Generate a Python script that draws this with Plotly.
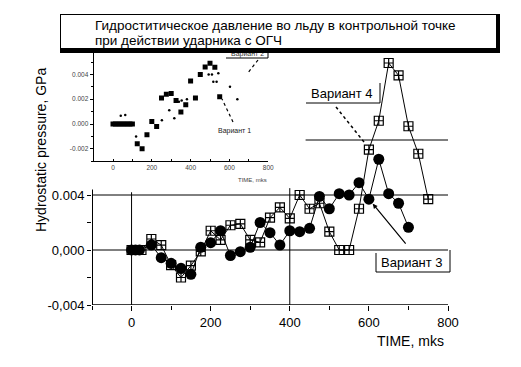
import plotly.graph_objects as go

# ---------------- data ----------------
# Main chart, "Вариант 3" (filled circles)
v3_x = [0, 10, 20, 50, 75, 100, 125, 150, 175, 200, 225, 250, 275, 300, 325, 350, 375,
        400, 425, 450, 475, 500, 525, 550, 575, 600, 625, 650, 675, 700]
v3_y = [0.0, 0.0, 0.0, 0.00036, -0.00056, -0.00097, -0.00133, -0.00177, 0.0002, 0.00053,
        0.0014, -0.0004, -0.00012, 0.0002, 0.002, 0.00126, 0.00036, 0.0014, 0.00133,
        0.00158, 0.0039, 0.003, 0.0041, 0.004, 0.0049, 0.0037, 0.0066, 0.0041, 0.0034,
        0.00165]

# Main chart, "Вариант 4" (open squares with cross)
v4_x = [0, 25, 50, 75, 100, 125, 150, 175, 200, 225, 250, 275, 300, 325, 350, 375, 400,
        425, 450, 475, 500, 525, 550, 575, 600, 625, 650, 675, 700, 725, 750]
v4_y = [0.0, 0.0, 0.0008, 0.00036, -0.0011, -0.002, -0.00114, -0.0001, 0.0014, 0.00073,
        0.0018, 0.0019, 0.00073, 0.00056, 0.00235, 0.0031, 0.0023, 0.004, 0.003, 0.0034,
        0.00133, 0.0, 0.0, 0.003, 0.0073, 0.0094, 0.0136, 0.0127, 0.009, 0.0070, 0.0037]

# Inset, "Вариант 1" (filled squares)
v1_x = [0, 12.5, 25, 37.5, 50, 62.5, 75, 87.5, 100, 125, 150, 175, 200, 225, 250, 275,
        300, 325, 350, 375, 400, 425, 450, 475, 500, 525, 550]
v1_y = [0, 0, 0, 0, 0, 0, 0, 0, 0, -0.0016, -0.002, -0.00086, 0.0002, -0.0002, 0.0021,
        0.0024, 0.00245, 0.0019, 0.00097, 0.00156, 0.00347, 0.0021, 0.004, 0.0046,
        0.0049, 0.00457, 0.0022]

# Inset, "Вариант 2" (small dots)
v2_x = [40, 63, 119, 252, 290, 316, 340, 354, 381, 493, 510, 517, 534, 543, 603, 641]
v2_y = [0.00067, 0.00073, -0.001, 0.0003, 0.0011, 0.00046, 0.0018, 0.0019, 0.002,
        0.004, 0.004, 0.0034, 0.0034, 0.0041, 0.003, 0.002]

main_xticks = [0, 200, 400, 600, 800]
main_xminor = [-100, 100, 300, 500, 700]
main_yticks = [-0.004, 0.0, 0.004]
main_yticktext = ["-0,004", "0,000", "0.004"]
main_yminor = [-0.002, 0.002]
inset_xticks = [0, 200, 400, 600, 800]
inset_xminor = [-100, 100, 300, 500, 700]
inset_yticks = [-0.002, 0.0, 0.002, 0.004]
inset_yticktext = ["-0.002", "0.000", "0.002", "0.004"]
inset_yminor = [-0.003, -0.001, 0.001, 0.003, 0.005]

title_line1 = "Гидроститическое давление во льду в контрольной точке"
title_line2 = "при действии ударника с ОГЧ"

# ---------------- layout helpers ----------------
OFF = 8                      # page body margin added by the HTML page
W, H = 521 - OFF, 367 - OFF
PL, PR, PT, PB = 92, 448, 45, 305   # plot area in page pixels
ML, MR, MT, MB = PL - OFF, W - (PR - OFF), PT - OFF, H - (PB - OFF)
PW, PH = PR - PL, PB - PT
FONT = "Liberation Sans, Arial, sans-serif"


def px(x):
    return (x - PL) / PW


def py(y):
    return (PB - y) / PH


fig = go.Figure()

fig.add_trace(go.Scatter(
    x=v4_x, y=v4_y, mode="lines+markers", name="Вариант 4",
    line=dict(color="black", width=1),
    marker=dict(symbol="square-cross-open", size=9, color="black",
                line=dict(width=1.2, color="black")),
    xaxis="x", yaxis="y"))
fig.add_trace(go.Scatter(
    x=v3_x, y=v3_y, mode="lines+markers", name="Вариант 3",
    line=dict(color="black", width=1),
    marker=dict(symbol="circle", size=11, color="black"),
    xaxis="x", yaxis="y"))
fig.add_trace(go.Scatter(
    x=v1_x, y=v1_y, mode="markers", name="Вариант 1",
    marker=dict(symbol="square", size=5, color="black"),
    xaxis="x2", yaxis="y2"))
fig.add_trace(go.Scatter(
    x=v2_x, y=v2_y, mode="markers", name="Вариант 2",
    marker=dict(symbol="circle", size=2.5, color="black"),
    xaxis="x2", yaxis="y2"))

ymin = -0.004
yspan = PH / 13750.0

fig.update_layout(
    width=W, height=H, margin=dict(l=ML, r=MR, t=MT, b=MB, pad=0),
    paper_bgcolor="white", plot_bgcolor="rgba(0,0,0,0)",
    showlegend=False,
    font=dict(family=FONT, color="black", size=13),
    xaxis=dict(range=[-100, 800], domain=[0, 1], showgrid=False, zeroline=False,
               showline=False, tickmode="array", tickvals=main_xticks,
               ticks="outside", ticklen=5, tickwidth=1, tickcolor="black",
               tickfont=dict(size=13, family=FONT),
               minor=dict(tickmode="array", tickvals=main_xminor, ticks="outside",
                          ticklen=4, tickcolor="black")),
    yaxis=dict(range=[ymin, ymin + yspan], domain=[0, 1], showgrid=False,
               zeroline=False, showline=False, tickmode="array",
               tickvals=main_yticks, ticktext=main_yticktext,
               ticks="outside", ticklen=4, tickwidth=1, tickcolor="black",
               tickfont=dict(size=13, family=FONT),
               minor=dict(tickmode="array", tickvals=main_yminor, ticks="outside",
                          ticklen=4, tickcolor="black")),
    xaxis2=dict(range=[-100, 800], domain=[px(93.6), px(268.2)], anchor="y2",
                showgrid=False, zeroline=False, showline=True, linecolor="black",
                linewidth=1, tickmode="array", tickvals=inset_xticks,
                ticks="inside", ticklen=2, tickcolor="black",
                tickfont=dict(size=6.5, family=FONT, color="#444"),
                minor=dict(tickmode="array", tickvals=inset_xminor, ticks="inside",
                           ticklen=2, tickcolor="black")),
    yaxis2=dict(range=[-0.003, 0.006], domain=[py(161.2), py(49.6)], anchor="x2",
                showgrid=False, zeroline=False, showline=True, linecolor="black",
                linewidth=1, tickmode="array", tickvals=inset_yticks,
                ticktext=inset_yticktext, ticks="outside", ticklen=3,
                tickcolor="black",
                tickfont=dict(size=6.5, family=FONT, color="#444"),
                minor=dict(tickmode="array", tickvals=inset_yminor, ticks="outside",
                           ticklen=2, tickcolor="black")),
)

shapes = []


def dline(x0, y0, x1, y1, w=1.0, dash="solid"):
    shapes.append(dict(type="line", xref="x", yref="y", x0=x0, y0=y0, x1=x1, y1=y1,
                       line=dict(color="black", width=w, dash=dash), layer="above"))


def pline(x0, y0, x1, y1, w=1.0, dash="solid"):
    shapes.append(dict(type="line", xref="paper", yref="paper", x0=px(x0), y0=py(y0),
                       x1=px(x1), y1=py(y1),
                       line=dict(color="black", width=w, dash=dash), layer="above"))


# main axis frame and grid lines
dline(-100, -0.004, -100, 0.0044, w=2)
dline(-100, -0.004, 800, -0.004, w=1.5)
dline(-100, 0.004, 800, 0.004)
dline(-100, 0.0, 800, 0.0)
dline(440, 0.008, 800, 0.008)
dline(0, -0.004, 0, 0.0042)
dline(400, -0.004, 400, 0.0045)

# Вариант 4 label frame and dotted pointer
pline(380, 83, 380, 103)
pline(306, 103, 380, 103)
pline(336, 107, 364, 142, w=1.5, dash="dot")

# Вариант 3 label frame
pline(376, 253, 376, 272)
pline(376, 272, 450, 272)
pline(450, 250, 450, 272)

# inset labels
pline(268, 50, 268, 58)
pline(226, 58, 268, 58)
pline(258, 60, 247, 74, w=1.2, dash="dot")
pline(233, 122, 222, 99, w=1.2, dash="dot")

fig.update_layout(shapes=shapes)

ann = []
# inset labels
ann.append(dict(x=px(247), y=py(54), xref="paper", yref="paper", text="Вариант 2",
                showarrow=False, font=dict(size=7, family=FONT, color="#333"),
                xanchor="center", yanchor="middle"))
ann.append(dict(x=px(234), y=py(131), xref="paper", yref="paper", text="Вариант 1",
                showarrow=False, font=dict(size=7, family=FONT, color="#222"),
                xanchor="center", yanchor="middle"))
ann.append(dict(x=px(252), y=py(180), xref="paper", yref="paper", text="TIME, mks",
                showarrow=False, font=dict(size=6, family=FONT, color="#444"),
                xanchor="center", yanchor="middle"))
# title box: shadow + white face
ann.append(dict(x=px(60), y=py(14), xref="paper", yref="paper", text=" ",
                showarrow=False, width=440, height=39, bgcolor="black",
                borderwidth=0, borderpad=0, xanchor="left", yanchor="top"))
ann.append(dict(x=px(61), y=py(15), xref="paper", yref="paper", text=" ",
                showarrow=False, width=435, height=33, bgcolor="white",
                borderwidth=0, borderpad=0, xanchor="left", yanchor="top"))
ann.append(dict(x=px(93), y=py(25), xref="paper", yref="paper", text=title_line1,
                showarrow=False, font=dict(size=13.5, family=FONT),
                xanchor="left", yanchor="middle"))
ann.append(dict(x=px(93), y=py(40), xref="paper", yref="paper", text=title_line2,
                showarrow=False, font=dict(size=13.5, family=FONT),
                xanchor="left", yanchor="middle"))
# series labels on the main chart
ann.append(dict(x=px(342), y=py(93), xref="paper", yref="paper", text="Вариант 4",
                showarrow=False, font=dict(size=13, family=FONT),
                xanchor="center", yanchor="middle"))
ann.append(dict(x=px(412), y=py(262), xref="paper", yref="paper", text="Вариант 3",
                showarrow=False, font=dict(size=13, family=FONT),
                xanchor="center", yanchor="middle"))
ann.append(dict(x=600, y=0.0037, xref="x", yref="y", text="", ax=38, ay=46,
                showarrow=True, arrowhead=2, arrowsize=0.8, arrowwidth=1.2,
                arrowcolor="black", standoff=6))
# axis titles
ann.append(dict(x=px(410), y=py(341), xref="paper", yref="paper", text="TIME, mks",
                showarrow=False, font=dict(size=14, family=FONT),
                xanchor="center", yanchor="middle"))
ann.append(dict(x=px(41), y=py(150), xref="paper", yref="paper",
                text="Hydrostatic pressure, GPa", textangle=-90,
                showarrow=False, font=dict(size=14, family=FONT),
                xanchor="center", yanchor="middle"))
fig.update_layout(annotations=ann)

fig.write_html("out.html")
